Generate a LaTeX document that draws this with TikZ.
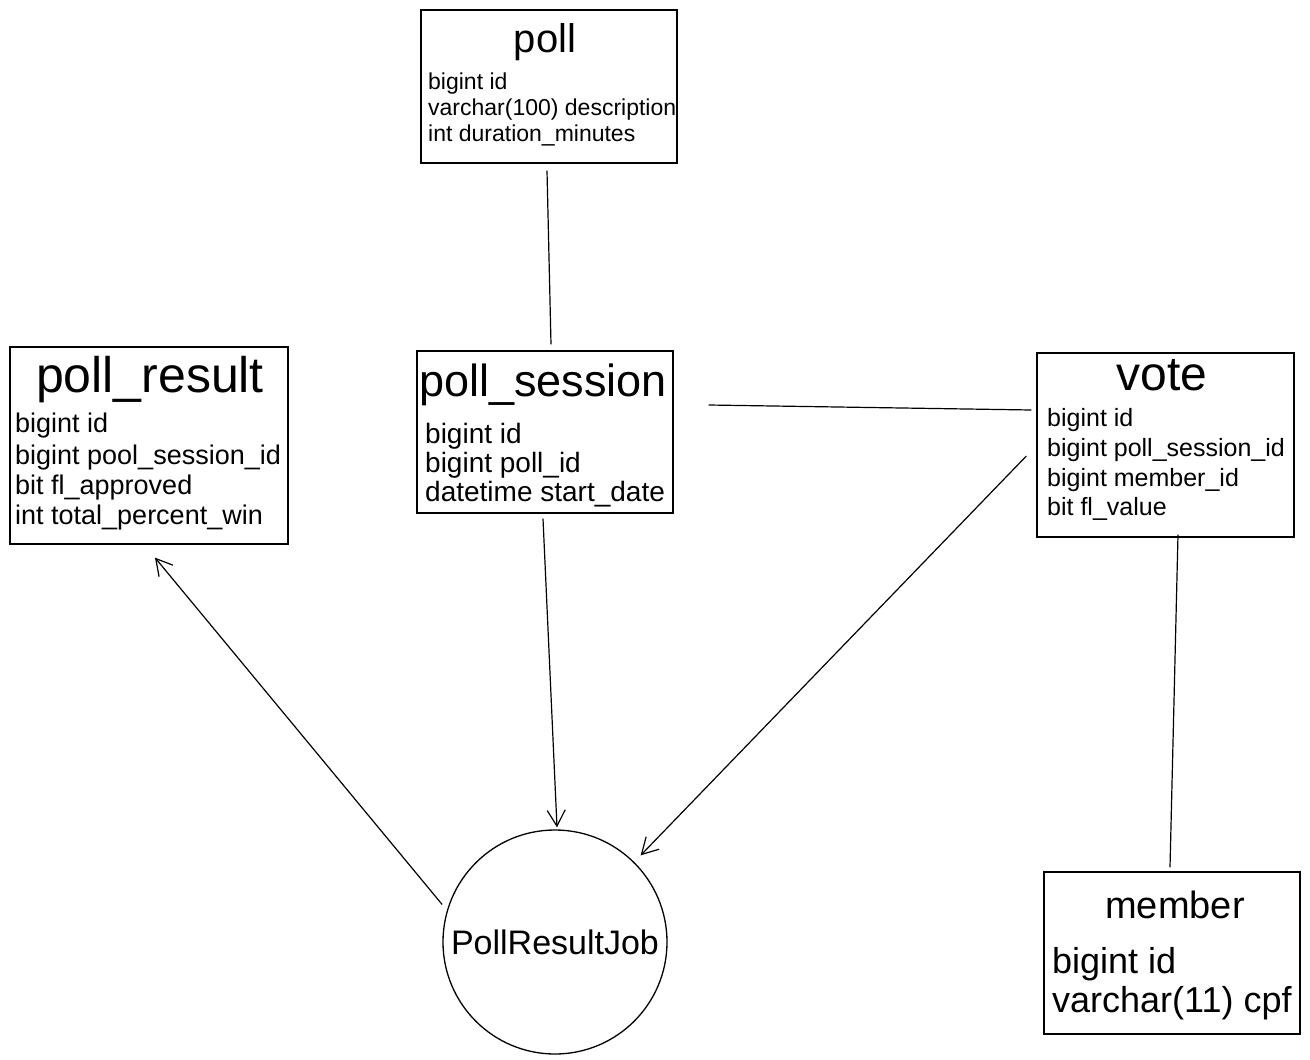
\documentclass[tikz,border=0pt]{standalone}
\usepackage{fontspec}
\setmainfont{Liberation Sans}
\usetikzlibrary{arrows.meta}
\begin{document}
\begin{tikzpicture}[x=1pt,y=-1pt,
  box/.style={draw=black,line width=1.3pt,rectangle,inner sep=0pt},
  title/.style={anchor=mid,inner sep=0pt,font=\fontsize{#1}{#1}\selectfont},
  field/.style={anchor=mid west,inner sep=0pt,font=\fontsize{#1}{#1}\selectfont},
  conn/.style={draw=black,line width=1.2pt},
  arr/.style={conn,-{Straight Barb[length=16pt,width=18pt,line width=1.2pt]}}
]
\useasboundingbox[fill=white] (0,0) rectangle (1310,1060);

% poll
\node[box,minimum width=256pt,minimum height=153pt] (poll) at (549,86.5) {};
\node[title=40] (pollT) at (545,50) {poll};
\node[field=23] (pollA) at (428,87) {bigint id};
\node[field=23] (pollB) at (428,113) {varchar(100) description};
\node[field=23] (pollC) at (428,139) {int duration\_minutes};

% poll_result
\node[box,minimum width=278pt,minimum height=197pt] (pres) at (149,445.5) {};
\node[title=50] (presT) at (150,390) {poll\_result};
\node[field=27] (presA) at (15,430) {bigint id};
\node[field=27] (presB) at (15,462) {bigint pool\_session\_id};
\node[field=27] (presC) at (15,492) {bit fl\_approved};
\node[field=27] (presD) at (15,522) {int total\_percent\_win};

% poll_session
\node[box,minimum width=256pt,minimum height=162pt] (psess) at (545,432) {};
\node[title=45] (psessT) at (543,394) {poll\_session};
\node[field=28] (psessA) at (425,441) {bigint id};
\node[field=28] (psessB) at (425,470) {bigint poll\_id};
\node[field=28] (psessC) at (425,499) {datetime start\_date};

% vote
\node[box,minimum width=257pt,minimum height=184pt] (vote) at (1165.5,445) {};
\node[title=48] (voteT) at (1162,388) {vote};
\node[field=25] (voteA) at (1047,424) {bigint id};
\node[field=25] (voteB) at (1047,454) {bigint poll\_session\_id};
\node[field=25] (voteC) at (1047,484) {bigint member\_id};
\node[field=25] (voteD) at (1047,513) {bit fl\_value};

% member
\node[box,minimum width=256pt,minimum height=162pt] (member) at (1172,953) {};
\node[title=38] (memberT) at (1175,916) {member};
\node[field=36] (memberA) at (1052,971) {bigint id};
\node[field=36] (memberB) at (1052,1010) {varchar(11) cpf};

% job
\node[draw=black,line width=1.3pt,circle,minimum size=224pt,inner sep=0pt,
      font=\fontsize{34}{34}\selectfont] (job) at (555,942) {PollResultJob};

% connectors
\draw[conn] ([shift={(-2,7)}]poll.south) -- ([shift={(6,-6)}]psess.north);
\draw[conn] ([shift={(35,-27)}]psess.east) -- ([shift={(-5,-35)}]vote.west);
\draw[conn] ([shift={(12.5,-3)}]vote.south) -- ([shift={(-2,-4)}]member.north);
\draw[arr] ([shift={(-2,5)}]psess.south) -- ([shift={(2,-2)}]job.north);
\draw[arr] ([shift={(-10,11)}]vote.west) -- ([shift={(6,-7)}]job.45);
\draw[arr] ([shift={(-7,1)}]job.160) -- ([shift={(6,13)}]pres.south);
\end{tikzpicture}
\end{document}
